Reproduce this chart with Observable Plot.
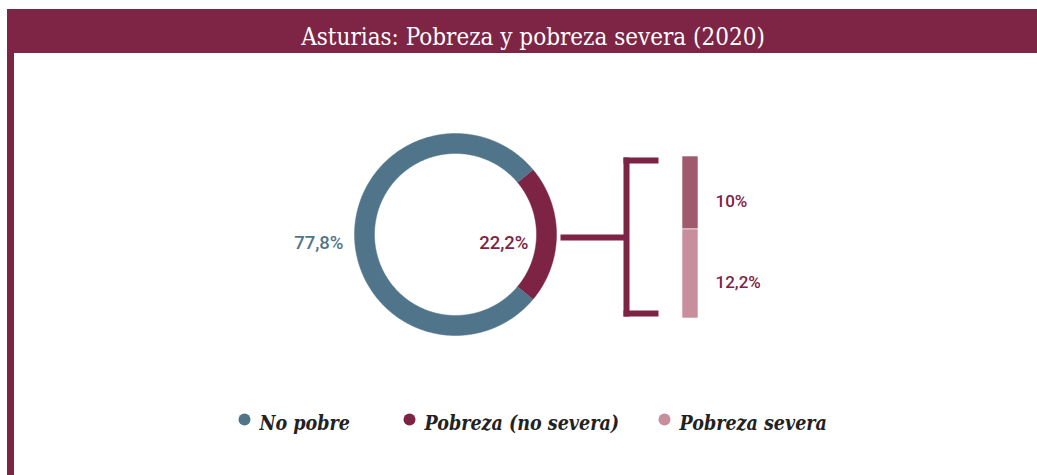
<!DOCTYPE html>
<html>
<head>
<meta charset="utf-8">
<script src="https://cdn.jsdelivr.net/npm/d3@7"></script>
<script src="https://cdn.jsdelivr.net/npm/@observablehq/plot@0.6"></script>
<style>
  html, body { margin: 0; padding: 0; background: #ffffff; }
  #wrap { position: relative; width: 1037px; height: 475px; overflow: hidden; background: #fff; }
  #header { position: absolute; left: 7px; top: 9px; width: 1030px; height: 44px; background: #7E2445; overflow: hidden; }
  #title { position: absolute; left: 0; width: 1030px; top: 0; padding-left: 22px; box-sizing: border-box;
           color: #fff; font-family: "DejaVu Serif Condensed", "DejaVu Serif", serif; font-stretch: condensed;
           font-size: 24px; line-height: 56px; text-align: center; white-space: nowrap; }
  #leftbar { position: absolute; left: 7px; top: 53px; width: 7px; height: 422px; background: #7E2445; }
  #chart { position: absolute; left: 0; top: 53px; }
</style>
</head>
<body>
<div id="wrap">
  <div id="header"><div id="title">Asturias: Pobreza y pobreza severa (2020)</div></div>
  <div id="leftbar"></div>
  <div id="chart"></div>
</div>
<script>
// ---- data ----
const donutCategories = ["No pobre", "Pobreza"];
const donutValues = [77.8, 22.2];
const donutColors = ["#50758B", "#7D2344"];

const breakdownCategories = ["Pobreza (no severa)", "Pobreza severa"];
const breakdownValues = [10, 12.2];
const breakdownColors = ["#A05A6E", "#C88E9B"];

const legendLabels = ["No pobre", "Pobreza (no severa)", "Pobreza severa"];
const legendColors = ["#50758B", "#7D2344", "#C88E9B"];

// ---- layout ----
const W = 1037, H = 422;
const cx = 455, cy = 181, rOuter = 101, rInner = 81;
const fmt = v => String(v).replace(".", ",") + "%";

// donut polygons (Pobreza slice centred at 3 o'clock)
const total = d3.sum(donutValues);
const pStart = 90 - (donutValues[1] / total) * 180; // degrees clockwise from top
const slices = [];
{
  const order = [1, 0];
  let start = pStart;
  for (const i of order) {
    const span = donutValues[i] / total * 360;
    const a0 = start, a1 = start + span;
    const n = Math.ceil(span * 2);
    for (let k = 0; k <= n; k++) {
      const ang = (a0 + (a1 - a0) * k / n) * Math.PI / 180;
      slices.push({cat: donutCategories[i], x: cx + rOuter * Math.sin(ang), y: cy - rOuter * Math.cos(ang)});
    }
    for (let k = n; k >= 0; k--) {
      const ang = (a0 + (a1 - a0) * k / n) * Math.PI / 180;
      slices.push({cat: donutCategories[i], x: cx + rInner * Math.sin(ang), y: cy - rInner * Math.cos(ang)});
    }
    start = a1;
  }
}

// stacked bar
const barX1 = 682, barX2 = 698, barTop = 103, barBottom = 265;
const bTotal = d3.sum(breakdownValues);
const k = (barBottom - barTop) / bTotal;
let acc = 0;
const barData = breakdownValues.map((v, i) => {
  const d = {cat: breakdownCategories[i], value: v, color: breakdownColors[i],
             y1: barTop + acc * k, y2: barTop + (acc + v) * k};
  acc += v;
  return d;
});

// bracket
const brX = 626, brTop = 107, brBot = 260, brRight = 658, connY = 184, connX = 560;
const bracketLinks = [
  {x1: brX, y1: brTop - 3, x2: brX, y2: brBot + 3},
  {x1: brX - 3, y1: brTop, x2: brRight, y2: brTop},
  {x1: brX - 3, y1: brBot, x2: brRight, y2: brBot},
  {x1: connX, y1: connY, x2: brX, y2: connY}
];

// legend
const legendDotX = [244, 409, 664];
const legendY = 368;
const legendData = legendLabels.map((l, i) => ({label: l, color: legendColors[i], x: legendDotX[i]}));

const colorMap = new Map(donutCategories.map((c, i) => [c, donutColors[i]]));

const chart = Plot.plot({
  width: W, height: H,
  margin: 0,
  x: {domain: [0, W], range: [0, W], axis: null},
  y: {domain: [0, H], range: [0, H], axis: null},
  style: {background: "transparent", overflow: "visible"},
  marks: [
    Plot.line(slices, {x: "x", y: "y", z: "cat", fill: d => colorMap.get(d.cat), stroke: d => colorMap.get(d.cat), strokeWidth: 0.5}),
    Plot.text([donutValues[0]], {x: cx - rOuter - 11, y: cy + 9, text: d => fmt(d), textAnchor: "end",
      fill: donutColors[0], fontSize: 18.5, fontWeight: 500, fontFamily: "Roboto", lineAnchor: "middle"}),
    Plot.text([donutValues[1]], {x: cx + rOuter - 28, y: cy + 9, text: d => fmt(d), textAnchor: "end",
      fill: donutColors[1], fontSize: 18.5, fontWeight: 500, fontFamily: "Roboto", lineAnchor: "middle"}),
    Plot.link(bracketLinks, {x1: "x1", y1: "y1", x2: "x2", y2: "y2", stroke: "#7D2344", strokeWidth: 6, strokeLinecap: "butt"}),
    Plot.rect(barData, {x1: barX1, x2: barX2, y1: "y1", y2: "y2", fill: "color", stroke: "#fff", strokeWidth: 0.6}),
    Plot.text(barData, {x: 715, y: d => (d.y1 + d.y2) / 2 + 9, text: d => fmt(d.value), textAnchor: "start",
      fill: "#7D2344", fontSize: 17, fontWeight: 500, fontFamily: "Roboto", lineAnchor: "middle"}),
    Plot.dot(legendData, {x: "x", y: legendY - 2, r: 6, fill: "color", stroke: null}),
    Plot.text(legendData, {x: d => d.x + 15, y: legendY + 2, text: "label", textAnchor: "start", lineAnchor: "middle",
      fill: "#222", fontSize: 19.5, fontStyle: "italic", fontWeight: 600, fontFamily: "DejaVu Serif Condensed, DejaVu Serif", fontStretch: "condensed"})
  ]
});
document.getElementById("chart").appendChild(chart);
</script>
</body>
</html>
